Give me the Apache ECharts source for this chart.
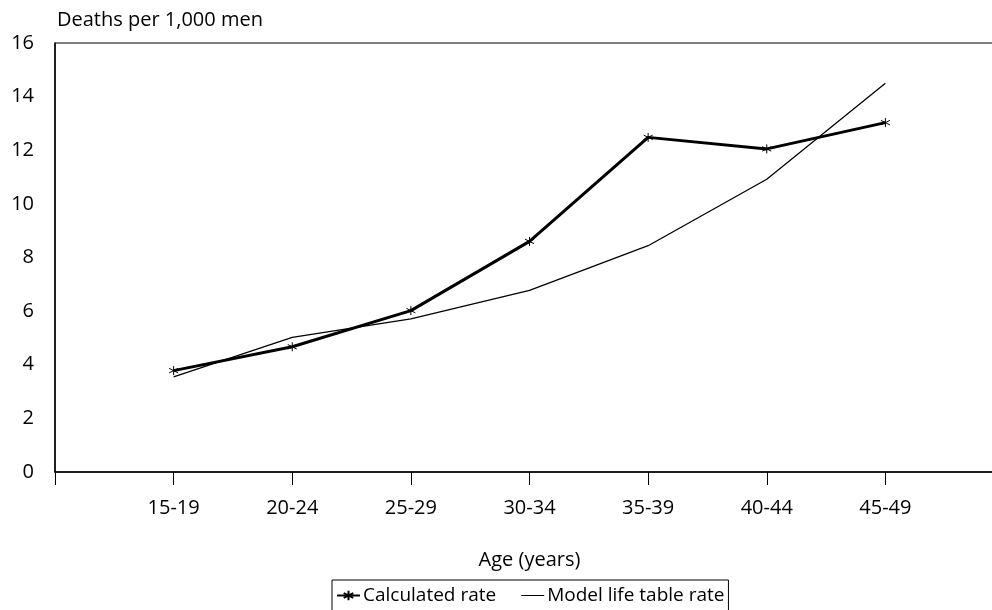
<!DOCTYPE html>
<html>
<head>
<meta charset="utf-8">
<script src="https://cdn.jsdelivr.net/npm/echarts@6/dist/echarts.min.js"></script>
<style>
html,body{margin:0;padding:0;background:#fff;}
#chart{width:992px;height:610px;}
</style>
</head>
<body>
<div id="chart"></div>
<script>
// Data
const categories = ['15-19', '20-24', '25-29', '30-34', '35-39', '40-44', '45-49'];
const calculatedRate = [3.78, 4.67, 6.02, 8.6, 12.48, 12.05, 13.03];
const modelLifeTableRate = [3.55, 5.02, 5.71, 6.77, 8.44, 10.92, 14.5];
const yTicks = { min: 0, max: 16, interval: 2 };
const yAxisTitle = 'Deaths per 1,000 men';
const xAxisTitle = 'Age (years)';
const seriesNames = ['Calculated rate', 'Model life table rate'];

// Axis has an empty slot at each end (tick marks at start and end)
const axisCats = [''].concat(categories, ['']);
const pad = arr => ['-'].concat(arr, ['-']);

const FONT = 'Open Sans';
const chart = echarts.init(document.getElementById('chart'), null, { renderer: 'canvas' });
const asterisk = 'path://M0,-5L0,5M-4.33,-2.5L4.33,2.5M-4.33,2.5L4.33,-2.5';
const thinLineIcon = 'path://M0,0L0.01,0M0,5.4L23,5.4L23,6.6L0,6.6ZM0,12L0.01,12';

chart.setOption({
  animation: false,
  backgroundColor: '#fff',
  textStyle: { fontFamily: FONT, color: '#000' },
  grid: {
    left: 55, top: 43, width: 949, bottom: 138,
    outerBoundsMode: 'none',
    containLabel: false,
    show: true, borderColor: '#000', borderWidth: 1, backgroundColor: 'transparent'
  },
  graphic: [{
    type: 'text', left: 57, top: 10,
    style: { text: yAxisTitle, font: '20px "' + FONT + '"', fill: '#000' }
  }],
  legend: {
    top: 580, left: 332,
    orient: 'horizontal',
    data: [
      { name: seriesNames[0] },
      { name: seriesNames[1], icon: thinLineIcon, itemStyle: { color: '#000' } }
    ],
    borderColor: '#000', borderWidth: 1, borderRadius: 0,
    padding: [6, 4, 8, 4],
    itemGap: 25, itemWidth: 23, itemHeight: 12,
    textStyle: { fontFamily: FONT, fontSize: 19, color: '#000', padding: [0, 0, 0, -2] }
  },
  xAxis: {
    type: 'category',
    data: axisCats,
    boundaryGap: false,
    name: xAxisTitle,
    nameLocation: 'middle',
    nameGap: 78,
    nameTextStyle: { fontFamily: FONT, fontSize: 20, color: '#000' },
    axisLine: { lineStyle: { color: '#000', width: 1.5 } },
    axisTick: { show: true, length: 13, inside: false, interval: 0, lineStyle: { color: '#000', width: 1 } },
    axisLabel: { interval: 0, margin: 26, fontFamily: FONT, fontSize: 20, color: '#000' },
    splitLine: { show: false }
  },
  yAxis: {
    type: 'value',
    min: yTicks.min, max: yTicks.max, interval: yTicks.interval,
    axisLine: { show: true, lineStyle: { color: '#000', width: 1.5 } },
    axisTick: { show: false },
    axisLabel: { margin: 21, fontFamily: FONT, fontSize: 20, color: '#000' },
    splitLine: { show: false }
  },
  series: [
    {
      name: seriesNames[0],
      type: 'line',
      data: pad(calculatedRate),
      symbol: asterisk,
      symbolSize: 9,
      showSymbol: true,
      lineStyle: { color: '#000', width: 3 },
      itemStyle: { color: 'rgba(0,0,0,0)', borderColor: '#000', borderWidth: 1 },
      z: 3
    },
    {
      name: seriesNames[1],
      type: 'line',
      data: pad(modelLifeTableRate),
      symbol: 'none',
      lineStyle: { color: '#000', width: 1.3 },
      itemStyle: { color: '#000' },
      z: 2
    }
  ]
});
</script>
</body>
</html>
